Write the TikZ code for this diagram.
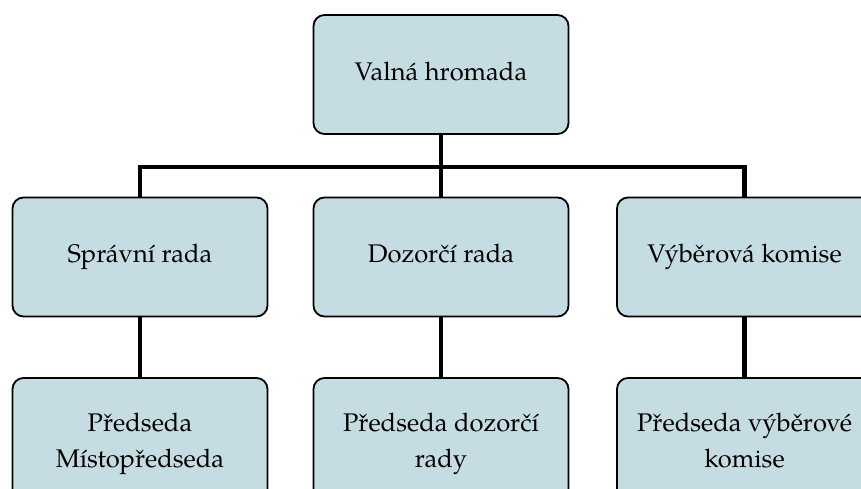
\documentclass[tikz,border=0pt]{standalone}
\usepackage{fontspec}
\setmainfont{texgyrepagella-regular.otf}
\usetikzlibrary{calc}
\definecolor{boxfill}{RGB}{197,221,226}
\tikzset{
	unit/.style={draw=black, line width=1.8pt, fill=boxfill, rounded corners=11pt,
		minimum width=255pt, minimum height=119pt, inner sep=0pt, text depth=7pt,
		align=center, font=\fontsize{25.5}{36}\selectfont},
	lowunit/.style={unit, minimum height=131pt},
	conn/.style={line width=4.5pt, line join=miter}
}

\begin{document}
\begin{tikzpicture}[x=1pt, y=1pt]
			%%%%% START %%%%%
			\useasboundingbox (0, 0) rectangle (861, 488);
			
			\node[unit] (vh) at (441, 413.5) {Valná hromada};
			
			\node[unit] (sr) at (140, 231) {Správní rada};
			\node[unit] (dr) at (441, 231) {Dozorčí rada};
			\node[unit] (vk) at (744.5, 231) {Výběrová komise};
			
			\node[lowunit] (psr) at (140, 44.5) {Předseda\\Místopředseda};
			\node[lowunit] (pdr) at (441, 44.5) {Předseda dozorčí\\rady};
			\node[lowunit] (pvk) at (744.5, 44.5) {Předseda výběrové\\komise};
			
			\coordinate (bus) at (441, 321);
			\draw[conn] (vh.south) -- (dr.north);
			\draw[conn] (sr.north) -- (sr.north |- bus) -- (vk.north |- bus) -- (vk.north);
			
			\draw[conn] (sr.south) -- (psr.north);
			\draw[conn] (dr.south) -- (pdr.north);
			\draw[conn] (vk.south) -- (pvk.north);
			%%%%% END %%%%%
\end{tikzpicture}
\end{document}
